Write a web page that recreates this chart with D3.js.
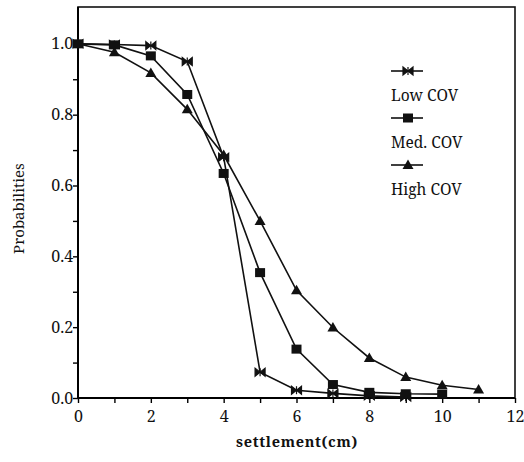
<!DOCTYPE html>
<html>
<head>
<meta charset="utf-8">
<script src="https://cdn.jsdelivr.net/npm/d3@7"></script>
<style>
  html, body { margin: 0; padding: 0; background: #fff; }
  svg { display: block; }
</style>
</head>
<body>
<svg id="chart" width="524" height="462"></svg>
<script>
// Settlement (cm) versus probability for three coefficients of variation
const settlementLow = [0, 1, 2, 3, 4, 5, 6, 7, 8, 9];
const probLow = [1.0, 0.998, 0.995, 0.95, 0.68, 0.073, 0.022, 0.013, 0.006, 0.003];

const settlementMed = [0, 1, 2, 3, 4, 5, 6, 7, 8, 9, 10];
const probMed = [1.0, 0.997, 0.966, 0.857, 0.634, 0.354, 0.138, 0.038, 0.016, 0.012, 0.011];

const settlementHigh = [0, 1, 2, 3, 4, 5, 6, 7, 8, 9, 10, 11];
const probHigh = [1.0, 0.976, 0.918, 0.815, 0.686, 0.50, 0.304, 0.199, 0.113, 0.059, 0.036, 0.024];

const seriesNames = ["Low COV", "Med. COV", "High COV"];
const xTickLabels = [0, 2, 4, 6, 8, 10, 12];
const yTickLabels = [0.0, 0.2, 0.4, 0.6, 0.8, 1.0];

const series = [
  { name: seriesNames[0], xs: settlementLow, ys: probLow, marker: "bowtie" },
  { name: seriesNames[1], xs: settlementMed, ys: probMed, marker: "square" },
  { name: seriesNames[2], xs: settlementHigh, ys: probHigh, marker: "triangle" }
];

const FONT = '"Noto Serif", "DejaVu Serif", serif';
const INK = "#111";
const svg = d3.select("#chart");
const plot = { left: 78, right: 515, top: 7, bottom: 398 };

const x = d3.scaleLinear().domain([0, 12]).range([plot.left, plot.right]);
const y = d3.scaleLinear().domain([0, 1.104]).range([plot.bottom, plot.top]);

// Frame
svg.append("rect")
  .attr("x", plot.left).attr("y", plot.top)
  .attr("width", plot.right - plot.left).attr("height", plot.bottom - plot.top)
  .attr("fill", "none").attr("stroke", INK).attr("stroke-width", 1.6);

// X axis: tick every 1 cm, label every 2
const xAxis = d3.axisBottom(x)
  .tickValues(d3.range(0, 13, 1))
  .tickSize(5)
  .tickFormat(d => xTickLabels.includes(d) ? d3.format("d")(d) : "");
const gx = svg.append("g").attr("transform", `translate(0,${plot.bottom})`).call(xAxis);
gx.select(".domain").attr("stroke-width", 2).attr("d", `M${plot.left},0H${plot.right}`);
gx.selectAll(".tick line").attr("stroke-width", 1.4);
gx.selectAll("text").style("font-family", FONT).style("font-size", "16px")
  .attr("fill", INK).attr("dy", "1.0em");

// Y axis: tick every 0.1, label every 0.2
const yAxis = d3.axisLeft(y)
  .tickValues(d3.range(0, 11, 1).map(i => i / 10))
  .tickSize(5)
  .tickFormat(d => yTickLabels.some(v => Math.abs(v - d) < 1e-9) ? d3.format(".1f")(d) : "");
const gy = svg.append("g").attr("transform", `translate(${plot.left},0)`).call(yAxis);
gy.select(".domain").attr("stroke-width", 2).attr("d", `M0,${plot.top}V${plot.bottom}`);
gy.selectAll(".tick line").attr("stroke-width", 1.4);
gy.selectAll("text").style("font-family", FONT).style("font-size", "16px")
  .attr("fill", INK).attr("dx", "0.2em");

// Axis titles
svg.append("text")
  .attr("transform", `translate(24,${(plot.top + plot.bottom) / 2 + 6}) rotate(-90)`)
  .attr("text-anchor", "middle")
  .style("font-family", FONT).style("font-size", "15px").attr("fill", INK)
  .text("Probabilities");
svg.append("text")
  .attr("x", 297).attr("y", 447)
  .attr("text-anchor", "middle")
  .style("font-family", FONT).style("font-size", "14.5px").style("font-weight", "bold")
  .attr("letter-spacing", "0.7px").attr("fill", INK)
  .text("settlement(cm)");

// Marker shapes
function drawMarker(g, type, cx, cy) {
  if (type === "square") {
    g.append("rect").attr("x", cx - 5).attr("y", cy - 4.5)
      .attr("width", 10).attr("height", 9).attr("fill", INK);
  } else if (type === "triangle") {
    g.append("path")
      .attr("d", `M${cx},${cy - 5.5}L${cx + 5.5},${cy + 4}L${cx - 5.5},${cy + 4}Z`)
      .attr("fill", INK);
  } else {
    g.append("path")
      .attr("d", `M${cx - 5},${cy - 4}L${cx + 5},${cy + 4}L${cx + 5},${cy - 4}L${cx - 5},${cy + 4}Z`)
      .attr("fill", INK).attr("stroke", INK).attr("stroke-width", 1.2);
    g.append("line").attr("x1", cx).attr("x2", cx).attr("y1", cy - 4).attr("y2", cy + 4)
      .attr("stroke", INK).attr("stroke-width", 1.2);
  }
}

const line = d3.line().x(d => x(d[0])).y(d => y(d[1]));

series.forEach(s => {
  const pts = s.xs.map((v, i) => [v, s.ys[i]]);
  const g = svg.append("g");
  g.append("path").datum(pts).attr("d", line)
    .attr("fill", "none").attr("stroke", INK).attr("stroke-width", 1.6);
  pts.forEach(p => drawMarker(g, s.marker, x(p[0]), y(p[1])));
});

// Legend: sample line above each label
const legendX = 391;
const legendRows = [71, 118, 165];
series.forEach((s, i) => {
  const g = svg.append("g");
  const ly = legendRows[i];
  g.append("line").attr("x1", legendX).attr("x2", legendX + 32)
    .attr("y1", ly).attr("y2", ly).attr("stroke", INK).attr("stroke-width", 1.6);
  drawMarker(g, s.marker, legendX + 17, ly);
  g.append("text").attr("x", legendX).attr("y", ly + 30)
    .style("font-family", FONT).style("font-size", "15.5px").attr("fill", INK)
    .text(s.name);
});
</script>
</body>
</html>
